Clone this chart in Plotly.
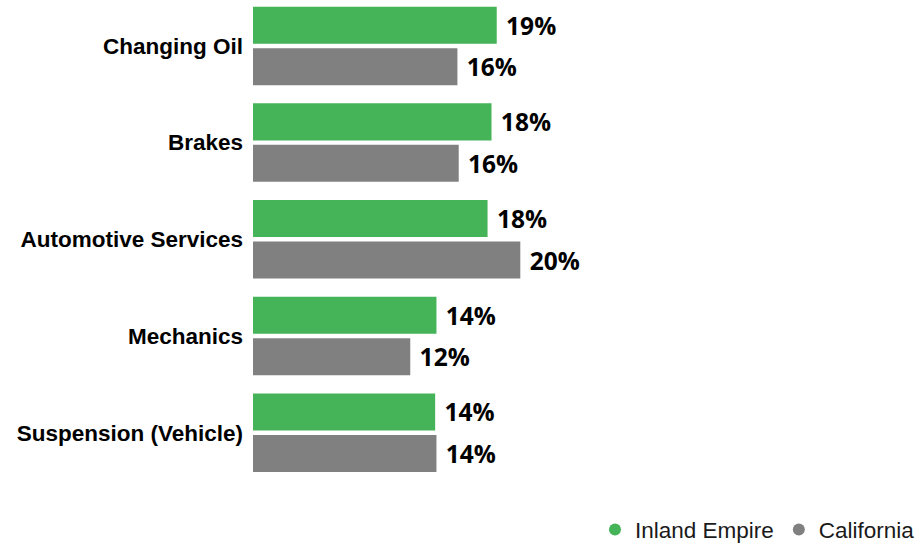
import plotly.graph_objects as go

# Share of searches by automotive service category
categories = ["Changing Oil", "Brakes", "Automotive Services", "Mechanics", "Suspension (Vehicle)"]
inland_empire = [18.6, 18.2, 17.9, 14.0, 13.9]
california = [15.6, 15.7, 20.4, 12.0, 14.0]

series_names = ["Inland Empire", "California"]
series_colors = ["#45b358", "#808080"]

fig = go.Figure()

for name, values, color in zip(series_names, [inland_empire, california], series_colors):
    fig.add_trace(go.Bar(
        name=name,
        y=categories,
        x=values,
        orientation="h",
        marker=dict(color=color, line=dict(width=0)),
        texttemplate="\u00a0%{x:.0f}%",
        textposition="outside",
        constraintext="none",
        cliponaxis=False,
        outsidetextfont=dict(family="Open Sans", size=24.5, color="#000000", weight="bold"),
        showlegend=False,
        hoverinfo="skip",
    ))

# Circle markers for the legend entries
for name, color in zip(series_names, series_colors):
    fig.add_trace(go.Scatter(
        name=name,
        x=[None],
        y=[None],
        mode="markers",
        marker=dict(symbol="circle", size=12, color=color),
        showlegend=True,
    ))

fig.update_layout(
    width=920,
    height=544,
    margin=dict(l=253, r=0, t=0, b=63),
    paper_bgcolor="#ffffff",
    plot_bgcolor="#ffffff",
    barmode="group",
    bargap=0.142,
    bargroupgap=0.107,
    xaxis=dict(
        range=[0, 50.9],
        showgrid=False,
        zeroline=False,
        showline=False,
        showticklabels=False,
        ticks="",
    ),
    yaxis=dict(
        type="category",
        range=[4.5, -0.475],
        showgrid=False,
        zeroline=False,
        showline=False,
        ticks="",
        ticklabelstandoff=9,
        tickfont=dict(family="Liberation Sans, Arial", size=22.5, color="#000000", weight="bold"),
    ),
    legend=dict(
        orientation="h",
        x=1,
        xanchor="right",
        xref="container",
        y=0.026,
        yanchor="middle",
        yref="container",
        font=dict(family="Liberation Sans, Arial", size=22.5, color="#1a1a1a"),
        itemwidth=30,
        tracegroupgap=0,
        bgcolor="rgba(0,0,0,0)",
    ),
)

fig.write_html("out.html")
